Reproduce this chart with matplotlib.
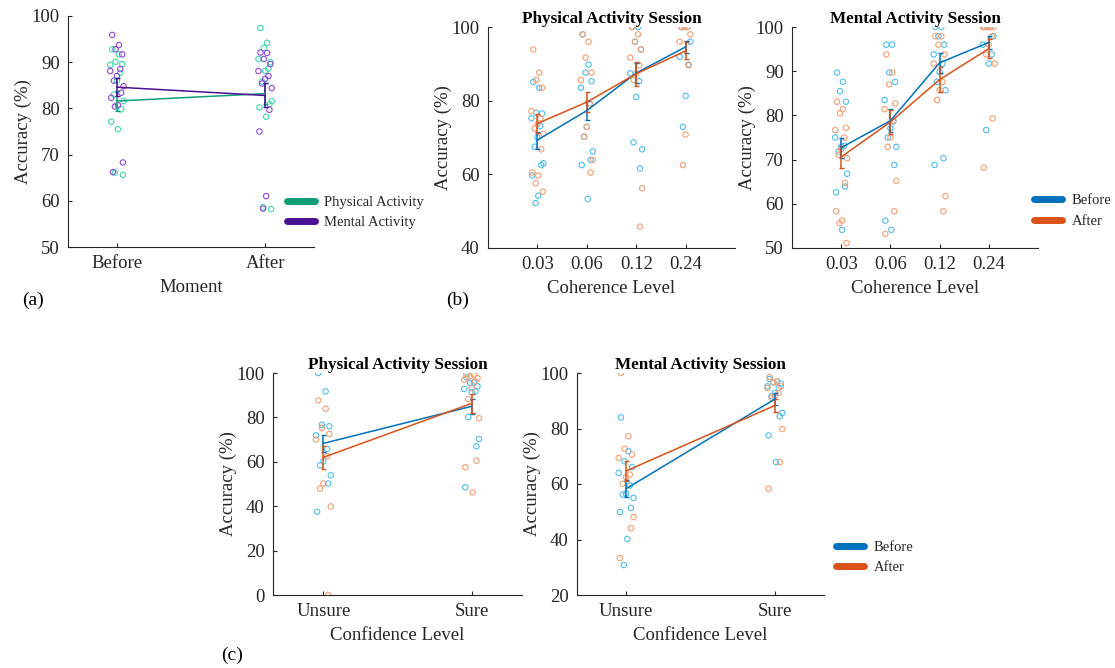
import matplotlib.pyplot as plt
from matplotlib.lines import Line2D

plt.rcParams['font.family'] = ['Liberation Serif', 'DejaVu Serif']
plt.rcParams['font.size'] = 13.5
plt.rcParams['text.color'] = '#262626'
plt.rcParams['axes.labelcolor'] = '#262626'
plt.rcParams['xtick.color'] = '#262626'
plt.rcParams['ytick.color'] = '#262626'

# colours
green_line = '#0e9e78'
purple_line = '#4b0f92'
green_pts = '#3ddbaa'
purple_pts = '#9244e0'
blue_line = '#0072bd'
orange_line = '#d95319'
blue_pts = '#4dbeee'
orange_pts = '#f79e70'

# ---- panel (a): accuracy by moment ----
moments = ['Before', 'After']
phys_before = [92.8, 91.7, 90.1, 89.6, 89.4, 87.7, 86.0, 83.0, 81.6, 79.8, 77.1, 75.5, 66.1, 65.6]
phys_after = [97.4, 94.2, 93.1, 90.0, 90.7, 88.6, 88.1, 85.8, 81.6, 80.9, 80.2, 78.2, 58.6, 58.2]
ment_before = [95.9, 93.7, 92.8, 91.7, 88.1, 88.5, 87.0, 86.0, 84.8, 83.4, 82.3, 80.7, 80.4, 68.3, 66.2]
ment_after = [92.1, 92.0, 90.7, 89.6, 88.1, 87.0, 86.4, 85.4, 84.4, 79.7, 75.0, 61.0, 58.3]
phys_mean = [81.6, 83.2]
phys_err = [2.2, 2.3]
ment_mean = [84.6, 82.8]
ment_err = [2.0, 2.6]

# ---- panel (b): accuracy by coherence level ----
coherence = ['0.03', '0.06', '0.12', '0.24']
pa_before = [
    [85.1, 83.5, 76.7, 76.5, 75.2, 73.1, 70.0, 67.5, 63.0, 62.5, 59.7, 54.2, 52.2],
    [98.0, 89.8, 87.6, 85.3, 83.5, 79.2, 72.9, 70.2, 66.2, 63.9, 62.5, 53.3],
    [100, 100, 96.0, 93.9, 87.4, 85.3, 81.0, 68.7, 66.8, 61.6],
    [100, 100, 100, 96.0, 91.9, 89.8, 81.3, 72.9],
]
pa_after = [
    [93.9, 87.6, 85.6, 83.5, 77.2, 75.2, 73.6, 72.5, 71.0, 66.8, 60.5, 59.7, 57.6, 55.3],
    [98.0, 96.0, 91.7, 87.6, 85.6, 79.2, 72.9, 70.2, 63.9, 60.5],
    [100, 98.0, 96.0, 93.9, 91.7, 89.6, 87.4, 85.6, 56.2, 45.8],
    [100, 100, 100, 98.0, 96.0, 89.6, 70.8, 62.5],
]
pa_before_mean = [69.3, 77.3, 87.5, 94.6]
pa_before_err = [2.3, 2.5, 2.8, 1.6]
pa_after_mean = [73.8, 79.6, 87.3, 93.5]
pa_after_err = [2.5, 2.7, 3.3, 2.3]

ma_before = [
    [89.7, 87.6, 85.5, 83.1, 75.0, 73.1, 72.9, 71.8, 66.8, 63.9, 62.6, 54.1],
    [96.0, 96.0, 89.7, 87.6, 83.5, 78.6, 77.1, 75.0, 72.9, 68.8, 56.2, 54.1],
    [100, 100, 97.9, 96.0, 93.8, 91.7, 89.8, 87.6, 85.7, 70.3, 68.8],
    [100, 100, 100, 97.9, 96.0, 93.8, 91.7, 76.7],
]
ma_after = [
    [83.1, 81.4, 80.5, 77.2, 76.7, 75.0, 72.4, 71.1, 70.3, 64.7, 58.3, 56.2, 55.6, 51.1],
    [93.8, 89.7, 87.0, 82.7, 81.4, 78.8, 75.0, 72.9, 65.2, 58.3, 53.2],
    [97.9, 97.9, 96.0, 93.8, 91.7, 87.6, 85.7, 83.5, 61.7, 58.3],
    [100, 100, 100, 100, 100, 97.9, 96.0, 93.8, 91.7, 79.3, 68.2],
]
ma_before_mean = [72.7, 78.8, 91.9, 96.5]
ma_before_err = [2.3, 2.6, 2.2, 1.4]
ma_after_mean = [70.6, 78.5, 88.1, 95.1]
ma_after_err = [2.4, 2.7, 2.8, 2.1]

# ---- panel (c): accuracy by confidence level ----
confidence = ['Unsure', 'Sure']
pc_before = [
    [100, 91.7, 76.7, 76.0, 71.9, 65.8, 60.2, 58.4, 53.9, 50.2, 37.5],
    [98.0, 95.8, 95.5, 94.0, 92.8, 91.7, 91.4, 80.2, 70.3, 67.0, 48.5],
]
pc_after = [
    [87.7, 83.9, 75.2, 72.5, 70.0, 62.5, 50.2, 47.9, 39.9, 0.0],
    [99.5, 99.2, 98.5, 97.7, 97.0, 96.2, 93.1, 88.3, 79.6, 60.5, 57.5, 46.2],
]
pc_before_mean = [68.3, 85.0]
pc_before_err = [3.8, 3.4]
pc_after_mean = [62.0, 86.3]
pc_after_err = [5.2, 4.3]

mc_before = [
    [84.0, 71.8, 68.2, 66.1, 64.0, 59.5, 56.5, 56.2, 55.0, 51.4, 49.9, 40.2, 30.8],
    [97.8, 97.0, 96.6, 96.2, 95.2, 94.6, 92.8, 91.6, 85.6, 84.4, 77.5, 67.9],
]
mc_after = [
    [100, 77.2, 72.7, 70.6, 69.4, 63.4, 62.5, 60.1, 48.1, 44.1, 33.3],
    [98.6, 97.0, 96.6, 95.2, 94.6, 92.8, 91.8, 91.0, 79.8, 67.9, 58.3],
]
mc_before_mean = [58.3, 90.6]
mc_before_err = [3.0, 2.3]
mc_after_mean = [64.7, 88.3]
mc_after_err = [3.5, 2.4]

# fixed spread pattern for the dots around each category
spread = [-0.7, 0.3, -0.2, 0.8, -1.0, 0.5, 0.0, -0.45, 1.0, 0.65, -0.85, 0.15, -0.3, 0.9, -0.6]


def dots(ax, xpos, vals, color, width):
    xs = [xpos + spread[i % len(spread)] * width for i in range(len(vals))]
    ax.scatter(xs, vals, s=15, facecolors='none', edgecolors=color, linewidths=0.8, zorder=2)


def mean_line(ax, means, errs, color):
    xs = list(range(1, len(means) + 1))
    ax.errorbar(xs, means, yerr=errs, color=color, lw=1.1, capsize=1.8, capthick=1.0,
                elinewidth=1.1, zorder=3)


def style(ax, labels, ylim, yticks, xlabel, title=None):
    for s in ['top', 'right']:
        ax.spines[s].set_visible(False)
    for s in ['left', 'bottom']:
        ax.spines[s].set_color('#262626')
        ax.spines[s].set_linewidth(0.8)
    n = len(labels)
    ax.set_xticks(range(1, n + 1))
    ax.set_xticklabels(labels)
    ax.set_ylim(*ylim)
    ax.set_yticks(yticks)
    ax.tick_params(direction='in', length=3, width=0.8, pad=6)
    ax.set_ylabel('Accuracy (%)', labelpad=0)
    ax.set_xlabel(xlabel, labelpad=5)
    if title:
        ax.set_title(title, fontsize=12.3, fontweight='bold', color='black', pad=3)


def legend(ax, names, colors, x, y):
    handles = [Line2D([0], [0], color=c, lw=5, solid_capstyle='round') for c in colors]
    ax.legend(handles, names, loc='center left', bbox_to_anchor=(x, y), frameon=False,
              fontsize=10.5, handlelength=1.9, handletextpad=0.65, labelspacing=0.5,
              borderaxespad=0, borderpad=0)


fig = plt.figure(figsize=(11.15, 6.68), dpi=100)
W, H = 1115, 668


def add_ax(l, r, t, b):
    return fig.add_axes([l / W, 1 - b / H, (r - l) / W, (b - t) / H])


# (a)
ax = add_ax(68, 314, 16, 247)
for i in range(2):
    dots(ax, i + 1, [phys_before, phys_after][i], green_pts, 0.045)
    dots(ax, i + 1, [ment_before, ment_after][i], purple_pts, 0.045)
mean_line(ax, phys_mean, phys_err, green_line)
mean_line(ax, ment_mean, ment_err, purple_line)
ax.set_xlim(0.67, 2.33)
style(ax, moments, (50, 100), range(50, 101, 10), 'Moment')
legend(ax, ['Physical Activity', 'Mental Activity'], [green_line, purple_line], 0.89, 0.15)

# (b) physical
ax = add_ax(488, 735, 27, 248)
for i in range(4):
    dots(ax, i + 1, pa_before[i], blue_pts, 0.12)
    dots(ax, i + 1, pa_after[i], orange_pts, 0.12)
mean_line(ax, pa_before_mean, pa_before_err, blue_line)
mean_line(ax, pa_after_mean, pa_after_err, orange_line)
ax.set_xlim(0, 5)
style(ax, coherence, (40, 100), range(40, 101, 20), 'Coherence Level', 'Physical Activity Session')

# (b) mental
ax = add_ax(792, 1038, 27, 248)
for i in range(4):
    dots(ax, i + 1, ma_before[i], blue_pts, 0.12)
    dots(ax, i + 1, ma_after[i], orange_pts, 0.12)
mean_line(ax, ma_before_mean, ma_before_err, blue_line)
mean_line(ax, ma_after_mean, ma_after_err, orange_line)
ax.set_xlim(0, 5)
style(ax, coherence, (50, 100), range(50, 101, 10), 'Coherence Level', 'Mental Activity Session')
legend(ax, ['Before', 'After'], [blue_line, orange_line], 0.985, 0.167)

# (c) physical
ax = add_ax(273, 522, 373, 595)
for i in range(2):
    dots(ax, i + 1, pc_before[i], blue_pts, 0.05)
    dots(ax, i + 1, pc_after[i], orange_pts, 0.05)
mean_line(ax, pc_before_mean, pc_before_err, blue_line)
mean_line(ax, pc_after_mean, pc_after_err, orange_line)
ax.set_xlim(0.66, 2.34)
style(ax, confidence, (0, 100), range(0, 101, 20), 'Confidence Level', 'Physical Activity Session')

# (c) mental
ax = add_ax(577, 824, 373, 595)
for i in range(2):
    dots(ax, i + 1, mc_before[i], blue_pts, 0.05)
    dots(ax, i + 1, mc_after[i], orange_pts, 0.05)
mean_line(ax, mc_before_mean, mc_before_err, blue_line)
mean_line(ax, mc_after_mean, mc_after_err, orange_line)
ax.set_xlim(0.67, 2.33)
style(ax, confidence, (20, 100), range(20, 101, 20), 'Confidence Level', 'Mental Activity Session')
legend(ax, ['Before', 'After'], [blue_line, orange_line], 1.05, 0.169)

fig.text(33 / W, 1 - 300 / H, '(a)', fontsize=14, ha='center', va='center', color='black')
fig.text(458 / W, 1 - 300 / H, '(b)', fontsize=14, ha='center', va='center', color='black')
fig.text(232 / W, 1 - 655 / H, '(c)', fontsize=14, ha='center', va='center', color='black')

fig.savefig('out.png', dpi=100)
